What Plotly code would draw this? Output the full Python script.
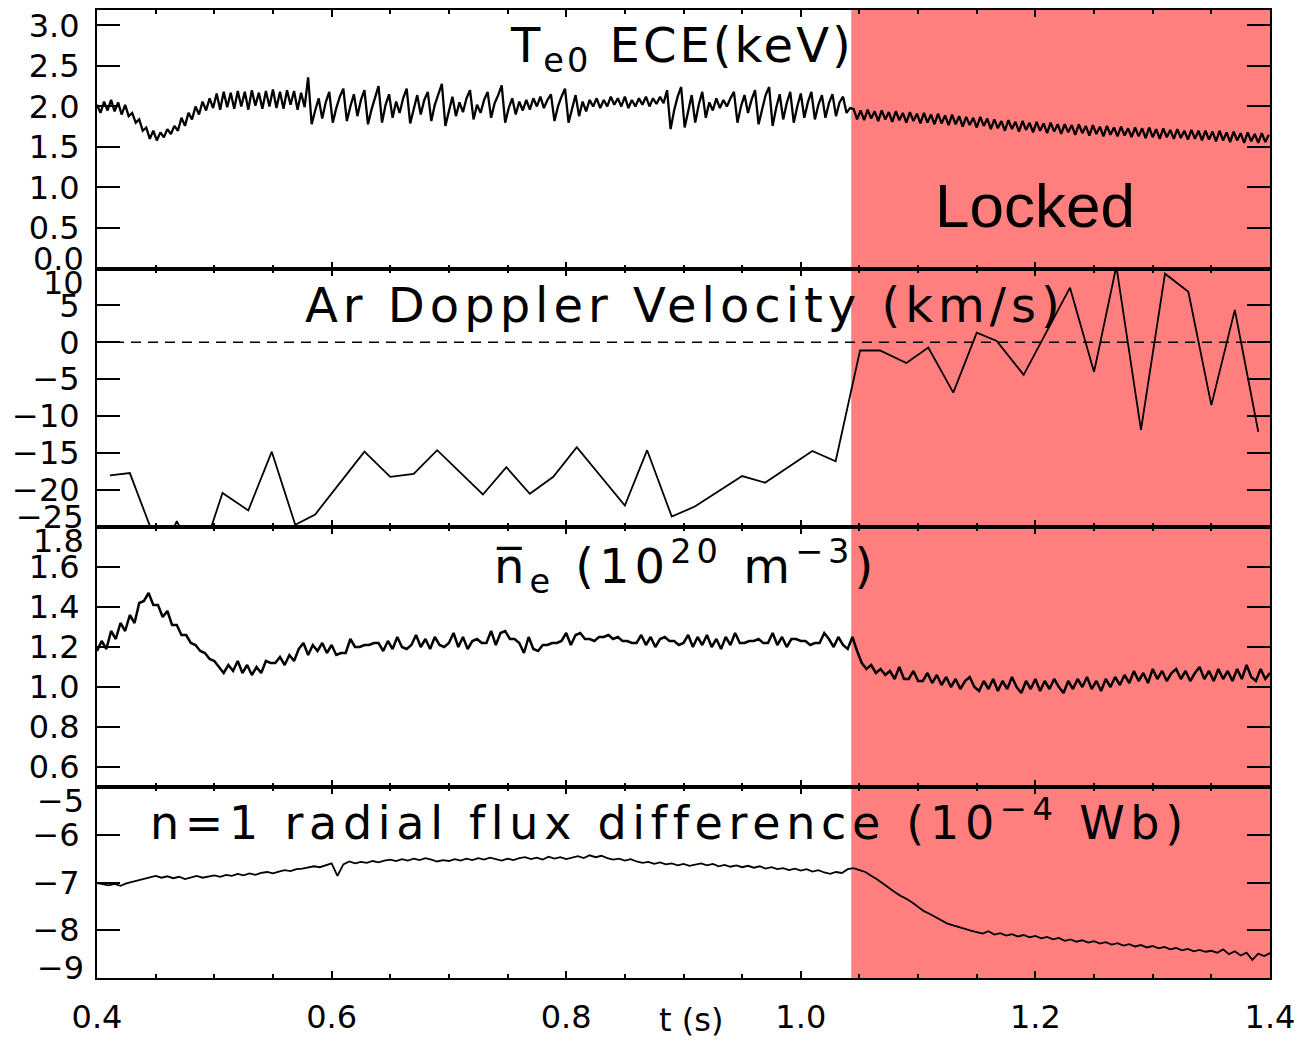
import numpy as np
import plotly.graph_objects as go

# ---------------- data ----------------
T_MIN, T_MAX = 0.4, 1.4
LOCK_T = 1.043          # start of locked-mode phase (s)
ZERO_LEVEL = 0.0        # reference level for Doppler panel

# Central electron temperature Te0 from ECE (keV), uniformly sampled
te_pre_t0, te_pre_t1 = 0.400, 1.042
te_pre = [
    2.02, 1.92, 2.06, 1.95, 2.08, 1.94, 2.05, 1.90, 2.02, 1.88,
    1.92, 1.80, 1.84, 1.70, 1.74, 1.60, 1.70, 1.58, 1.68, 1.62, 1.72, 1.66, 1.76,
    1.70, 1.86, 1.76, 1.92, 1.84, 2.00, 1.90, 2.06, 1.95, 2.10, 1.98,
    2.16, 1.96, 2.18, 1.99, 2.17, 1.97, 2.19, 2.00, 2.18, 1.96, 2.20, 2.01, 2.17,
    1.97, 2.19, 2.00, 2.21, 1.98, 2.18, 1.97, 2.20, 2.02, 2.19, 1.96, 2.17, 1.99,
    2.36, 1.78, 1.95, 2.10, 1.85, 2.05, 2.18, 1.80, 1.98, 2.12, 2.22, 1.82, 2.00,
    2.15, 1.88, 2.08, 2.20, 1.78, 1.96, 2.12, 2.25, 1.80, 2.02, 2.15, 1.86, 2.06,
    1.92, 2.10, 2.22, 1.79, 1.98, 2.14, 1.90, 2.08, 2.18, 1.82, 2.02, 2.16, 2.28, 1.76,
    1.96, 2.12, 1.88, 2.05, 1.93, 2.10, 2.20, 1.84, 2.02, 1.92, 2.08, 2.18, 1.86,
    2.04, 2.14, 2.26, 1.80, 1.98, 2.10, 1.90, 2.06, 1.95, 2.08, 1.96, 2.10, 2.00,
    2.12, 1.98, 2.08, 2.15, 1.82, 2.00, 2.12, 2.22, 1.80, 1.98, 2.14, 1.88, 2.06,
    1.94, 2.08, 2.00, 2.10, 1.98, 2.08, 2.00, 2.12, 2.02, 2.10, 2.00, 2.12,
    1.98, 2.08, 2.00, 2.10, 2.02, 2.12, 2.00, 2.10, 2.03, 2.12, 2.04, 2.20, 1.72,
    1.95, 2.12, 2.24, 1.74, 1.96, 2.14, 1.80, 2.02, 2.18, 1.86, 2.05, 1.95, 2.10,
    1.98, 2.08, 2.00, 2.10, 2.18, 1.80, 2.00, 2.14, 1.92, 2.08, 2.20, 1.78, 1.98,
    2.14, 2.24, 1.76, 1.98, 2.15, 1.84, 2.04, 2.18, 1.80, 2.00, 2.16, 1.86, 2.05,
    2.18, 1.84, 2.02, 2.14, 1.86, 2.04, 2.15, 1.88, 2.05, 2.12, 1.92, 1.98,
]
te_lock_t0, te_lock_t1 = 1.045, 1.399
te_lock = [
    1.97, 1.84, 1.95, 1.83, 1.96, 1.85, 1.94, 1.82, 1.95, 1.84, 1.93, 1.81, 1.94,
    1.83, 1.92, 1.80, 1.93, 1.82, 1.91,
    1.79, 1.92, 1.80, 1.90, 1.78, 1.91, 1.79, 1.89, 1.77, 1.90, 1.78, 1.88, 1.75,
    1.87, 1.77, 1.86, 1.74, 1.87, 1.76, 1.85,
    1.72, 1.84, 1.73, 1.82, 1.70, 1.83, 1.72, 1.81, 1.69, 1.82, 1.71, 1.80, 1.68,
    1.81, 1.70, 1.79, 1.67, 1.80, 1.69, 1.78,
    1.66, 1.78, 1.68, 1.77, 1.65, 1.78, 1.67, 1.76, 1.64, 1.77, 1.66, 1.75, 1.63,
    1.76, 1.65, 1.74, 1.63, 1.75, 1.64, 1.73,
    1.62, 1.74, 1.63, 1.73, 1.61, 1.74, 1.62, 1.72, 1.60, 1.73, 1.62, 1.71, 1.60,
    1.72, 1.61, 1.70, 1.59, 1.71, 1.60, 1.70,
    1.58, 1.70, 1.59, 1.69, 1.57, 1.70, 1.58, 1.68, 1.56, 1.69, 1.58, 1.67, 1.55,
    1.68, 1.57, 1.66, 1.55, 1.67, 1.56, 1.65,
]

# Ar Doppler velocity (km/s)
dop_t = [0.411, 0.428, 0.455, 0.468, 0.487, 0.507, 0.529, 0.549, 0.569, 0.586,
         0.628, 0.650, 0.670, 0.690, 0.729, 0.749, 0.769, 0.789, 0.809, 0.850,
         0.869, 0.890, 0.910, 0.950, 0.9695, 1.0098, 1.0297, 1.0505, 1.0675, 1.090,
         1.1087, 1.130, 1.150, 1.167, 1.190, 1.2295, 1.250, 1.269, 1.290, 1.3105,
         1.3304, 1.350, 1.370, 1.390]
dop_v = [-18.0, -17.7, -29.0, -24.2, -30.0, -20.4, -22.75, -14.8, -24.7, -23.3,
         -14.8, -18.2, -17.8, -14.6, -20.6, -16.9, -20.5, -18.2, -14.2, -22.1,
         -14.6, -23.6, -22.2, -18.1, -19.0, -14.7, -16.1, -1.1, -1.1, -2.8,
         -0.7, -6.8, 1.3, 0.2, -4.4, 7.4, -4.0, 10.3, -11.85, 9.3,
         6.85, -8.5, 4.4, -12.1]

# Line-averaged density (1e20 m^-3), uniformly sampled
ne_t0, ne_t1 = 0.400, 1.400
ne = [
    1.18, 1.23, 1.19, 1.28, 1.24, 1.32, 1.28, 1.36, 1.32, 1.42,
    1.43, 1.47, 1.41, 1.41, 1.35, 1.38, 1.31, 1.31, 1.26, 1.26,
    1.22, 1.21, 1.18, 1.17, 1.14, 1.13, 1.10, 1.07, 1.11, 1.08,
    1.13, 1.07, 1.11, 1.06, 1.10, 1.07, 1.13, 1.12, 1.12, 1.15,
    1.11, 1.16, 1.13, 1.19, 1.22, 1.16, 1.21, 1.18, 1.22, 1.17,
    1.21, 1.16, 1.17, 1.17, 1.24, 1.20, 1.20, 1.21, 1.21, 1.22,
    1.22, 1.18, 1.23, 1.19, 1.25, 1.20, 1.19, 1.21, 1.26, 1.20,
    1.24, 1.19, 1.25, 1.21, 1.20, 1.22, 1.27, 1.20, 1.25, 1.19,
    1.23, 1.24, 1.22, 1.22, 1.28, 1.21, 1.27, 1.28, 1.24, 1.24,
    1.22, 1.17, 1.25, 1.19, 1.18, 1.21, 1.21, 1.22, 1.22, 1.23,
    1.27, 1.21, 1.26, 1.27, 1.24, 1.24, 1.23, 1.25, 1.25, 1.26,
    1.24, 1.25, 1.23, 1.23, 1.22, 1.22, 1.26, 1.21, 1.25, 1.20,
    1.24, 1.25, 1.23, 1.23, 1.21, 1.22, 1.26, 1.20, 1.25, 1.21,
    1.26, 1.20, 1.24, 1.19, 1.25, 1.21, 1.27, 1.22, 1.22, 1.23,
    1.23, 1.24, 1.22, 1.22, 1.27, 1.21, 1.25, 1.20, 1.24, 1.24,
    1.23, 1.23, 1.21, 1.22, 1.22, 1.27, 1.24, 1.20, 1.25, 1.21,
    1.19, 1.25, 1.18, 1.12, 1.09, 1.11, 1.07, 1.09, 1.06, 1.08,
    1.04, 1.10, 1.04, 1.04, 1.08, 1.03, 1.03, 1.07, 1.02, 1.06,
    1.01, 1.05, 1.00, 1.04, 0.99, 1.03, 1.05, 1.00, 0.98, 1.03,
    0.99, 1.04, 0.98, 1.03, 0.99, 1.05, 1.00, 0.97, 1.03, 0.99,
    1.04, 0.98, 1.03, 0.99, 1.04, 1.00, 0.97, 1.03, 0.99, 1.04,
    1.00, 1.05, 0.99, 1.03, 0.98, 1.04, 1.00, 1.05, 1.01, 1.06,
    1.02, 1.08, 1.03, 1.07, 1.02, 1.09, 1.04, 1.08, 1.03, 1.07,
    1.09, 1.04, 1.08, 1.03, 1.07, 1.10, 1.04, 1.08, 1.03, 1.09,
    1.04, 1.08, 1.03, 1.09, 1.04, 1.11, 1.05, 1.03, 1.09, 1.04,
    1.07,
]

# n=1 radial flux difference (1e-4 Wb), uniformly sampled
flux_t0, flux_t1 = 0.400, 1.400
flux = [
    -7.01, -7.04, -7.06, -7.03, -7.07, -7.02, -6.99, -6.96, -6.93, -6.89,
    -6.86, -6.90, -6.87, -6.91, -6.88, -6.93, -6.89, -6.86, -6.90, -6.87,
    -6.85, -6.88, -6.84, -6.86, -6.82, -6.85, -6.81, -6.84, -6.80, -6.78,
    -6.81, -6.77, -6.74, -6.76, -6.72, -6.71, -6.69, -6.66, -6.68, -6.64,
    -6.60, -6.86, -6.62, -6.56, -6.60, -6.57, -6.59, -6.55, -6.58, -6.54,
    -6.52, -6.55, -6.51, -6.54, -6.50, -6.53, -6.49, -6.52, -6.56, -6.53,
    -6.55, -6.51, -6.54, -6.50, -6.53, -6.49, -6.52, -6.48, -6.51, -6.54,
    -6.50, -6.53, -6.49, -6.47, -6.51, -6.48, -6.52, -6.46, -6.50, -6.47,
    -6.51, -6.48, -6.45, -6.49, -6.43, -6.47, -6.44, -6.49, -6.52, -6.50,
    -6.54, -6.51, -6.56, -6.59, -6.57, -6.61, -6.58, -6.62, -6.60, -6.64,
    -6.61, -6.65, -6.62, -6.60, -6.64, -6.61, -6.66, -6.63, -6.67, -6.64,
    -6.68, -6.65, -6.69, -6.66, -6.71, -6.68, -6.72, -6.70, -6.74, -6.71,
    -6.75, -6.72, -6.77, -6.74, -6.79, -6.82, -6.78, -6.80, -6.72, -6.70,
    -6.74, -6.78, -6.86, -6.93, -7.02, -7.12, -7.20, -7.28, -7.34, -7.42,
    -7.52, -7.60, -7.66, -7.73, -7.80, -7.86, -7.90, -7.94, -7.97, -8.01,
    -8.04, -8.07, -8.02, -8.09, -8.06, -8.11, -8.08, -8.13, -8.10, -8.15,
    -8.12, -8.17, -8.14, -8.19, -8.16, -8.22, -8.19, -8.24, -8.21, -8.26,
    -8.23, -8.28, -8.25, -8.30, -8.27, -8.32, -8.29, -8.34, -8.31, -8.36,
    -8.33, -8.38, -8.35, -8.40, -8.37, -8.42, -8.39, -8.44, -8.41, -8.45,
    -8.43, -8.47, -8.40, -8.50, -8.44, -8.53, -8.47, -8.62, -8.49, -8.54,
    -8.48,
]

# axis ranges / ticks
y_ranges = [[0.0, 3.19], [-25.0, 10.0], [0.5, 1.8], [-9.0, -5.0]]
y_tickvals = [[0.0, 0.5, 1.0, 1.5, 2.0, 2.5, 3.0],
              [-25, -20, -15, -10, -5, 0, 5, 10],
              [0.6, 0.8, 1.0, 1.2, 1.4, 1.6, 1.8],
              [-9, -8, -7, -6, -5]]
y_ticktext = [["0.0", "0.5", "1.0", "1.5", "2.0", "2.5", "3.0"],
              ["\u221225", "\u221220", "\u221215", "\u221210", "\u22125", "0", "5", "10"],
              ["0.6", "0.8", "1.0", "1.2", "1.4", "1.6", "1.8"],
              ["\u22129", "\u22128", "\u22127", "\u22126", "\u22125"]]
x_tickvals = [0.4, 0.6, 0.8, 1.0, 1.2, 1.4]
x_ticktext = ["0.4", "0.6", "0.8", "1.0", "1.2", "1.4"]

# ---------------- figure ----------------
OFF = 8                      # page body margin (px)
W, H = 1302, 1035
ML, MR, MT, MB = 89, 40, 2, 65
plot_w = W - ML - MR
plot_h = H - MT - MB


def py(p):  # screen pixel row -> paper fraction
    return (H - MB - (p - OFF)) / plot_h


def px(p):  # screen pixel column -> paper fraction
    return (p - OFF - ML) / plot_w


bounds = [268.5, 527, 787]
domains = [[py(bounds[0]), 1.0], [py(bounds[1]), py(bounds[0])],
           [py(bounds[2]), py(bounds[1])], [0.0, py(bounds[2])]]

fig = go.Figure()

te_t = np.concatenate([np.linspace(te_pre_t0, te_pre_t1, len(te_pre)),
                       np.linspace(te_lock_t0, te_lock_t1, len(te_lock))])
te_v = np.array(te_pre + te_lock)
fig.add_trace(go.Scatter(x=te_t, y=te_v, mode="lines", line=dict(color="black", width=2.3),
                         xaxis="x", yaxis="y"))
fig.add_trace(go.Scatter(x=dop_t, y=dop_v, mode="lines", line=dict(color="black", width=1.8),
                         xaxis="x2", yaxis="y2"))
fig.add_trace(go.Scatter(x=np.linspace(ne_t0, ne_t1, len(ne)), y=ne, mode="lines",
                         line=dict(color="black", width=2.5), xaxis="x3", yaxis="y3"))
fig.add_trace(go.Scatter(x=np.linspace(flux_t0, flux_t1, len(flux)), y=flux, mode="lines",
                         line=dict(color="black", width=1.8), xaxis="x4", yaxis="y4"))

tickfont = dict(family="DejaVu Sans", size=32, color="black")
layout = dict(width=W, height=H, margin=dict(l=ML, r=MR, t=MT, b=MB, autoexpand=False),
              paper_bgcolor="white", plot_bgcolor="rgba(0,0,0,0)", showlegend=False)

ann = []
for i in range(4):
    sx = "" if i == 0 else str(i + 1)
    xa = dict(domain=[0, 1], anchor="y" + sx, range=[T_MIN, T_MAX], showline=True,
              linecolor="black", linewidth=2, mirror="ticks", ticks="inside", ticklen=7,
              tickwidth=2, tickcolor="black", tickmode="array", tickvals=x_tickvals,
              ticktext=x_ticktext,
              minor=dict(tick0=0.4, dtick=0.05, ticks="inside", ticklen=4, tickwidth=1.5,
                         tickcolor="black"),
              showgrid=False, zeroline=False, showticklabels=(i == 3), automargin=False,
              tickfont=tickfont, ticklabelstandoff=10, ticklabeloverflow="allow")
    if i > 0:
        xa["matches"] = "x"
    # end labels are drawn as annotations nudged inside the panel (like the original)
    vals = y_tickvals[i]
    txts = list(y_ticktext[i])
    lo, hi = y_ranges[i]
    for k, v in enumerate(vals):
        if abs(v - lo) < 1e-9 or abs(v - hi) < 1e-9:
            shift = 10 if abs(v - lo) < 1e-9 else -14
            ann.append(dict(text=txts[k], xref="paper", x=0, xanchor="right", xshift=-11,
                            yref="y" + sx, y=v, yanchor="middle", yshift=shift,
                            showarrow=False, font=tickfont))
            txts[k] = ""
    ya = dict(domain=domains[i], anchor="x" + sx, range=y_ranges[i], showline=True,
              linecolor="black", linewidth=2, mirror="ticks", ticks="inside", ticklen=23,
              tickwidth=2, tickcolor="black", tickmode="array", tickvals=vals,
              ticktext=txts, showgrid=False, zeroline=False, automargin=False,
              tickfont=tickfont, ticklabelstandoff=9, ticklabeloverflow="allow")
    layout["xaxis" + sx] = xa
    layout["yaxis" + sx] = ya

fig.update_layout(**layout)
for a in ann:
    fig.add_annotation(**a)

fig.add_shape(type="rect", xref="x", yref="paper", x0=LOCK_T, x1=T_MAX, y0=0, y1=1,
              fillcolor="#FF7F7F", line=dict(width=0), layer="below")
fig.add_shape(type="line", xref="x2", yref="y2", x0=T_MIN, x1=T_MAX, y0=ZERO_LEVEL,
              y1=ZERO_LEVEL, line=dict(color="black", width=1.5, dash="10px,7px"))


def sp(txt, ls):
    return '<span style="letter-spacing:%.1fpx">%s</span>' % (ls, txt)


titles = [
    (sp("T<sub>e0</sub> ECE(keV)", 3), 508, 48, 48),
    (sp("Ar Doppler Velocity (km/s)", 5), 303, 305, 48),
    (sp("n\u0305<sub>e</sub> (10<sup>20</sup> m<sup>\u22123</sup>)", 5), 492, 566, 48),
    (sp("n=1 radial flux difference (10<sup>\u22124</sup> Wb)", 5.7), 148, 820, 46),
]
for txt, x0, yc, fs in titles:
    fig.add_annotation(text=txt, xref="paper", yref="paper", x=px(x0), y=py(yc),
                       xanchor="left", yanchor="middle", showarrow=False,
                       font=dict(family="DejaVu Sans", size=fs, color="black"))

fig.add_annotation(text="Locked", xref="paper", yref="paper", x=px(1035), y=py(205),
                   xanchor="center", yanchor="middle", showarrow=False,
                   font=dict(family="Liberation Sans", size=62, color="black"))
fig.add_annotation(text="t (s)", xref="paper", yref="paper", x=px(691), y=py(1020),
                   xanchor="center", yanchor="middle", showarrow=False,
                   font=dict(family="DejaVu Sans", size=32, color="black"))

fig.write_html("out.html")
